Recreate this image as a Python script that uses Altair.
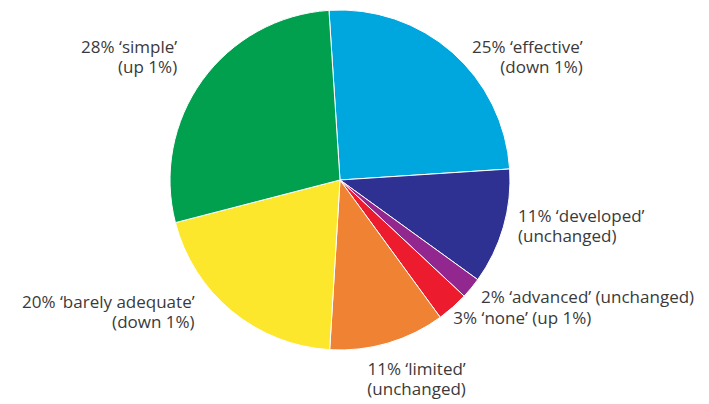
import math

import altair as alt
import pandas as pd

# Share of responses per rating, clockwise from the top
categories = ["effective", "developed", "advanced", "none", "limited", "barely adequate", "simple"]
shares = [25, 11, 2, 3, 11, 20, 28]
changes = ["down 1%", "unchanged", "unchanged", "up 1%", "unchanged", "down 1%", "up 1%"]
colors = ["#00A6DE", "#2E3192", "#92278F", "#EC1C2E", "#EF8233", "#FCE72D", "#00A04E"]

# Single-line labels for the two thin slices
one_line = {"advanced", "none"}

labels = [
    f"{s}% \u2018{c}\u2019" + (" " if c in one_line else "\n") + f"({ch})"
    for c, s, ch in zip(categories, shares, changes)
]

df = pd.DataFrame(
    {
        "category": categories,
        "share": shares,
        "label": labels,
        "order": list(range(len(categories))),
    }
)

# Label placement: alignment and offset from the slice's mid-angle point
placement = {
    "effective": ("right", 124, 8),
    "developed": ("left", 5, -8),
    "advanced": ("left", 2, 9),
    "none": ("left", -6, 9),
    "limited": ("center", 26, 22),
    "barely adequate": ("right", -31, -11),
    "simple": ("right", -17, -22),
}

START = -0.065
theta_scale = alt.Scale(domain=[0, 100], range=[START, START + 2 * math.pi])

base = (
    alt.Chart(df)
    .transform_window(cum="sum(share)", sort=[alt.SortField("order")], frame=[None, 0])
    .transform_calculate(
        start="datum.cum - datum.share",
        mid="datum.cum - datum.share / 2",
    )
)

pie = base.mark_arc(outerRadius=170, stroke="white", strokeWidth=1).encode(
    theta=alt.Theta("start:Q", scale=theta_scale),
    theta2="cum:Q",
    color=alt.Color(
        "category:N",
        scale=alt.Scale(domain=categories, range=colors),
        legend=None,
    ),
)

text_layers = []
for cat in categories:
    align, dx, dy = placement[cat]
    text_layers.append(
        base.transform_filter(alt.datum.category == cat)
        .mark_text(
            align=align,
            baseline="alphabetic",
            dx=dx,
            dy=dy,
            radius=180,
            font="Open Sans",
            fontSize=17,
            color="#3a3a3a",
            lineBreak="\n",
            lineHeight=20,
        )
        .encode(
            theta=alt.Theta("mid:Q", scale=theta_scale),
            text="label:N",
        )
    )

chart = (
    alt.layer(pie, *text_layers)
    .properties(
        width=680,
        height=360,
        autosize=alt.AutoSizeParams(type="none"),
        padding={"left": 0, "top": 0, "right": 29, "bottom": 44},
        background="white",
    )
    .configure_view(stroke=None)
)

chart.save("out.html", embed_options={"renderer": "svg", "actions": False})
